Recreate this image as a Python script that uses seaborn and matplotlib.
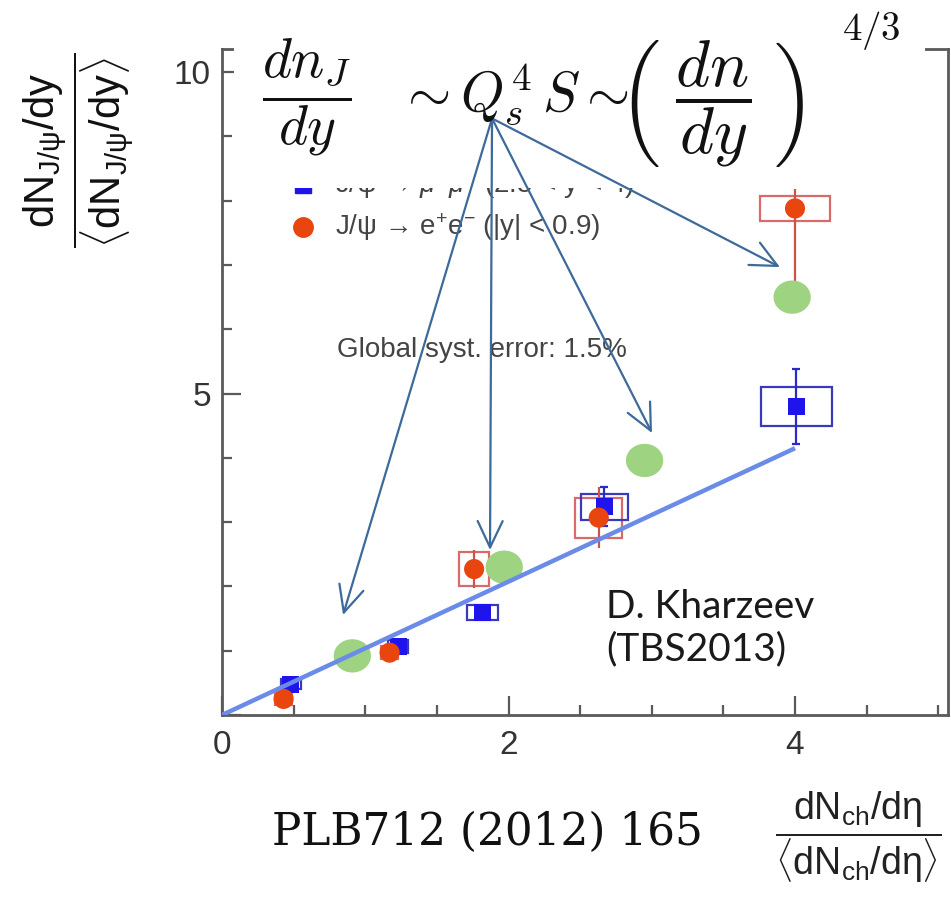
import numpy as np
import pandas as pd
import matplotlib
matplotlib.use("Agg")
import matplotlib.pyplot as plt
import seaborn as sns
from matplotlib.patches import Rectangle
from matplotlib.path import Path

# J/psi -> mu+mu- (2.5 < y < 4)
mu_x = [0.48, 1.23, 1.82, 2.67, 4.01]
mu_y = [0.48, 1.07, 1.59, 3.24, 4.80]
mu_stat = [0.08, 0.08, 0.10, 0.30, 0.58]
mu_sys_dx = [0.07, 0.07, 0.11, 0.165, 0.25]
mu_sys_dy = [0.08, 0.10, 0.12, 0.20, 0.30]

# J/psi -> e+e- (|y| < 0.9)
ee_x = [0.43, 1.17, 1.76, 2.63, 4.00]
ee_y = [0.25, 0.97, 2.27, 3.07, 7.88]
ee_stat_lo = [0.10, 0.10, 0.30, 0.47, 1.15]
ee_stat_hi = [0.10, 0.10, 0.30, 0.47, 0.30]
ee_sys_dx = [0.06, 0.06, 0.105, 0.165, 0.245]
ee_sys_dy = [0.10, 0.10, 0.27, 0.31, 0.19]

# saturation estimate (dn/dy)^(4/3)
model_x = [0.91, 1.97, 2.95, 3.98]
model_y = [0.92, 2.30, 3.96, 6.50]

# linear scaling
lin_x = [0.0, 4.0]
lin_y = [0.0, 4.15]

# arrows from the formula to the estimates
arrow_from = (1.885, 9.28)
arrow_to = [(0.845, 1.555), (1.871, 2.566), (3.002, 4.386), (3.895, 6.967)]

sns.set_theme(style="white")
plt.rcParams["font.family"] = ["Liberation Sans", "DejaVu Sans"]
plt.rcParams["mathtext.fontset"] = "custom"
plt.rcParams["mathtext.rm"] = "Liberation Sans"
plt.rcParams["mathtext.it"] = "Liberation Sans:italic"
plt.rcParams["mathtext.bf"] = "Liberation Sans:bold"

W, H = 951, 901
fig = plt.figure(figsize=(W / 100, H / 100), dpi=100)
fig.patch.set_facecolor("white")
ax = fig.add_axes([222 / W, 1 - 715 / H, (948 - 222) / W, (715 - 49) / H])
ax.set_facecolor("white")
ax.set_xlim(0, 5.068)
ax.set_ylim(0, 10.36)

RED = "#e8450f"
BLUE = "#1f14ec"
GREEN = "#9dd381"
RED_BOX = "#d86a6a"
BLUE_BOX = "#3a3ab8"

# systematic boxes
for x, y, dx, dy in zip(ee_x, ee_y, ee_sys_dx, ee_sys_dy):
    ax.add_patch(Rectangle((x - dx, y - dy), 2 * dx, 2 * dy, fill=False,
                           ec=RED_BOX, lw=1.6, zorder=2))
for x, y, dx, dy in zip(mu_x, mu_y, mu_sys_dx, mu_sys_dy):
    ax.add_patch(Rectangle((x - dx, y - dy), 2 * dx, 2 * dy, fill=False,
                           ec=BLUE_BOX, lw=1.6, zorder=2))

# statistical errors
ax.errorbar(ee_x, ee_y, yerr=[ee_stat_lo, ee_stat_hi], fmt="none",
            ecolor="#c9544e", elinewidth=1.6, capsize=0, zorder=2)
ax.errorbar(mu_x, mu_y, yerr=mu_stat, fmt="none", ecolor="#2a2ac8",
            elinewidth=1.6, capsize=3, capthick=1.6, zorder=2)

mu_df = pd.DataFrame({"x": mu_x, "y": mu_y})
ee_df = pd.DataFrame({"x": ee_x, "y": ee_y})
model_df = pd.DataFrame({"x": model_x, "y": model_y})
lin_df = pd.DataFrame({"x": lin_x, "y": lin_y})

sns.scatterplot(data=mu_df, x="x", y="y", ax=ax, marker="s", s=150,
                color=BLUE, edgecolor="none", zorder=4)
sns.scatterplot(data=ee_df, x="x", y="y", ax=ax, marker="o", s=210,
                color=RED, edgecolor="none", zorder=4)

t = np.linspace(0, 2 * np.pi, 80)
ellipse = Path(np.column_stack([1.12 * np.cos(t), np.sin(t)]), closed=True)
sns.scatterplot(data=model_df, x="x", y="y", ax=ax, marker=ellipse, s=720,
                color=GREEN, edgecolor="none", zorder=5)

sns.lineplot(data=lin_df, x="x", y="y", ax=ax, color="#6a8ce8", lw=3.2,
             zorder=6, solid_capstyle="butt")

# axes styling
for side in ["left", "bottom", "right", "top"]:
    ax.spines[side].set_color("#5a5a5a")
    ax.spines[side].set_linewidth(2)
ax.set_xticks([0, 2, 4])
ax.set_xticks(np.arange(0, 5.01, 0.5), minor=True)
ax.set_yticks([0, 5, 10])
ax.set_yticklabels(["", "5", "10"])
ax.set_yticks(np.arange(0, 10.01, 1), minor=True)
ax.tick_params(which="both", direction="in", color="#5a5a5a", width=1.6,
               labelsize=24, labelcolor="#333333", top=False, right=False,
               bottom=True, left=True)
ax.tick_params(which="major", length=14)
ax.tick_params(which="minor", length=7)
ax.tick_params(axis="x", which="major", pad=11)
ax.tick_params(axis="y", which="major", pad=8)
ax.set_xlabel("")
ax.set_ylabel("")

# legend entries and note
legend_col = "#444444"
ax.plot([0.1116], [0.7958], transform=ax.transAxes, marker="s", ms=12,
        color=BLUE, ls="none", zorder=3, clip_on=False)
ax.text(0.1556, 0.7958, r"J/ψ → $\mu^{+}\mu^{-}$ (2.5 < y < 4)",
        transform=ax.transAxes, fontsize=20, color=legend_col, va="center",
        ha="left", zorder=3)
ax.plot([0.1116], [0.7327], transform=ax.transAxes, marker="o", ms=14,
        color=RED, ls="none", zorder=3, clip_on=False)
ax.text(0.1556, 0.7327, r"J/ψ → e$^{+}$e$^{-}$ (|y| < 0.9)",
        transform=ax.transAxes, fontsize=20, color=legend_col, va="center",
        ha="left", zorder=3)
ax.text(0.158, 0.548, "Global syst. error: 1.5%", transform=ax.transAxes,
        fontsize=20, color=legend_col, va="center", ha="left", zorder=3)

# panel for the scaling formula
ax.add_patch(Rectangle((234 / W, 1 - 188 / H), (925 - 234) / W, 188 / H,
                       transform=fig.transFigure, facecolor="white",
                       edgecolor="none", clip_on=False, zorder=10))
formula_kw = dict(transform=fig.transFigure, math_fontfamily="cm",
                  color="#111111", ha="left", va="center", zorder=12)
ax.text(262 / W, 1 - 97 / H, r"$\dfrac{dn_J}{dy}$", fontsize=40, **formula_kw)
ax.text(398 / W, 1 - 95 / H, r"$\sim Q_s^4\,S \sim$", fontsize=40, **formula_kw)
ax.text(618 / W, 1 - 104 / H, r"$\left(\;\dfrac{dn}{dy}\;\right)$",
        fontsize=47, **formula_kw)
ax.text(842 / W, 1 - 30 / H, r"$4/3$", fontsize=28, **formula_kw)

for end in arrow_to:
    ax.annotate("", xy=end, xytext=arrow_from, xycoords="data",
                textcoords="data", annotation_clip=False, zorder=11,
                arrowprops=dict(arrowstyle="->,head_length=0.95,head_width=0.45",
                                mutation_scale=20, lw=1.6, color="#3d6a9a",
                                shrinkA=0, shrinkB=0))

ax.text(606 / W, 1 - 628 / H, "D. Kharzeev\n(TBS2013)",
        transform=fig.transFigure, fontsize=28, family=["Lato", "DejaVu Sans"],
        color="#1a1a1a", ha="left", va="center", linespacing=1.2, zorder=7)

# axis titles
fig.text(78 / W, 1 - 150 / H,
         r"$\dfrac{\mathrm{dN_{J/ψ}/dy}}{\langle\mathrm{dN_{J/ψ}/dy}\rangle}$",
         rotation=90, fontsize=30, ha="center", va="center", color="#111111")
fig.text(858 / W, 1 - 837 / H,
         r"$\dfrac{\mathrm{dN_{ch}/dη}}{\langle\mathrm{dN_{ch}/dη}\rangle}$",
         fontsize=27, ha="center", va="center", color="#222222")
fig.text(272 / W, 1 - 832 / H, "PLB712 (2012) 165",
         family=["DejaVu Serif"], fontsize=31.5, ha="left", va="center",
         color="#111111")

fig.savefig("out.png", dpi=100)
